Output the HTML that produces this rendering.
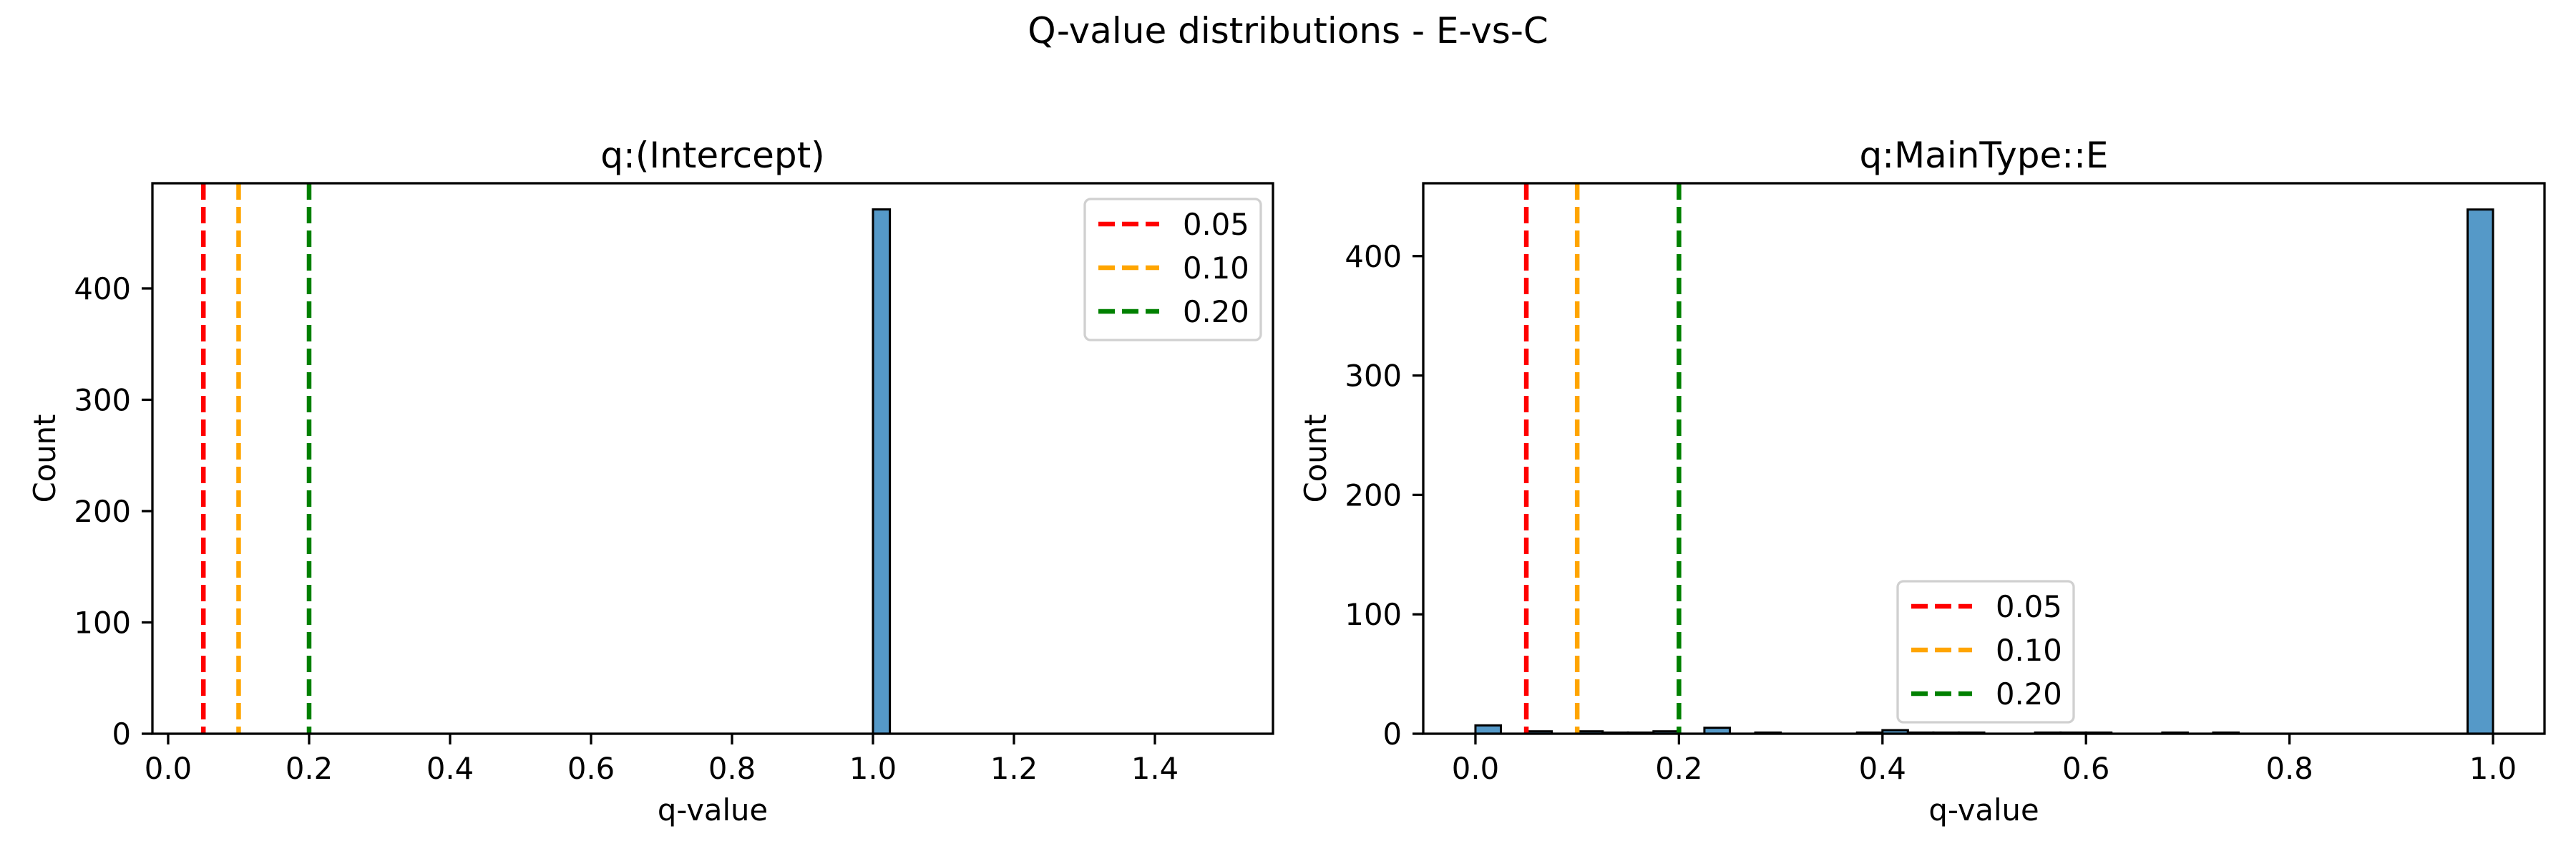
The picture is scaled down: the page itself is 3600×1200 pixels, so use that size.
<!DOCTYPE html>
<html><head><meta charset="utf-8">
<style>
html,body{margin:0;padding:0;background:#fff;}
svg{display:block;font-family:"DejaVu Sans","Liberation Sans",sans-serif;}
</style></head>
<body>
<svg id="fig" width="3600" height="1200" viewBox="0 0 3600 1200" xmlns="http://www.w3.org/2000/svg">
<rect width="3600" height="1200" fill="#fff"/>
<text x="1800" y="60" font-size="50" text-anchor="middle">Q-value distributions - E-vs-C</text>
</svg>
<script>
// Left panel data
const leftBinStarts = [1.0];
const leftCounts = [471];
const leftXTicks = [0.0, 0.2, 0.4, 0.6, 0.8, 1.0, 1.2, 1.4];
const leftYTicks = [0, 100, 200, 300, 400];
// Right panel data
const rightBinStarts = [0.0, 0.05, 0.1, 0.125, 0.15, 0.175, 0.225, 0.275, 0.375, 0.4, 0.425, 0.45, 0.475, 0.55, 0.575, 0.6, 0.675, 0.725, 0.975];
const rightCounts = [7, 2, 2, 1, 1, 2, 5, 1, 1, 3, 1, 1, 1, 1, 1, 1, 1, 1, 439];
const rightXTicks = [0.0, 0.2, 0.4, 0.6, 0.8, 1.0];
const rightYTicks = [0, 100, 200, 300, 400];
const thresholds = [0.05, 0.10, 0.20];
const thresholdLabels = ["0.05", "0.10", "0.20"];
const thresholdColors = ["#ff0000", "#ffa500", "#008000"];

const NS = "http://www.w3.org/2000/svg";
const svg = document.getElementById('fig');
function mk(tag, attrs, parent) {
  const e = document.createElementNS(NS, tag);
  for (const k in attrs) e.setAttribute(k, attrs[k]);
  (parent || svg).appendChild(e);
  return e;
}

function panel(cfg) {
  const g = mk('g', {});
  
  
  const xs = v => cfg.x0 + (v - cfg.xmin) / (cfg.xmax - cfg.xmin) * (cfg.x1 - cfg.x0);
  const ys = v => cfg.y1 - (v - cfg.ymin) / (cfg.ymax - cfg.ymin) * (cfg.y1 - cfg.y0);
  cfg.starts.forEach((s, i) => {
    const x = xs(s), w = xs(s + cfg.bw) - x, y = ys(cfg.counts[i]);
    const r = mk('rect', {x: x, y: y, width: w, height: cfg.y1 - y, fill: '#5599c8', stroke: '#000', 'stroke-width': 3}, g);
    
    
  });
  thresholds.forEach((t, i) => {
    const l = mk('line', {x1: xs(t), x2: xs(t), y1: cfg.y0, y2: cfg.y1, stroke: thresholdColors[i], 'stroke-width': 6.5, 'stroke-dasharray': '23,10'}, g);
    
    
  });
  const fr = mk('rect', {x: cfg.x0, y: cfg.y0, width: cfg.x1 - cfg.x0, height: cfg.y1 - cfg.y0, fill: 'none', stroke: '#000', 'stroke-width': 3.3}, g);
  
  
  cfg.xticks.forEach(t => {
    const x = xs(t);
    mk('line', {x1: x, x2: x, y1: cfg.y1, y2: cfg.y1 + 15, stroke: '#000', 'stroke-width': 3.3}, g);
    const tx = mk('text', {x: x, y: cfg.y1 + 63, 'font-size': 41.7, 'text-anchor': 'middle'}, g);
    tx.textContent = t.toFixed(1);
    
    
  });
  cfg.yticks.forEach(t => {
    const y = ys(t);
    mk('line', {x1: cfg.x0 - 15, x2: cfg.x0, y1: y, y2: y, stroke: '#000', 'stroke-width': 3.3}, g);
    const tx = mk('text', {x: cfg.x0 - 30, y: y + 15, 'font-size': 41.7, 'text-anchor': 'end'}, g);
    tx.textContent = String(t);
    
    
  });
  const title = mk('text', {x: (cfg.x0 + cfg.x1) / 2, y: cfg.y0 - 22, 'font-size': 50, 'text-anchor': 'middle'}, g);
  title.textContent = cfg.title;
  
  
  const xl = mk('text', {x: (cfg.x0 + cfg.x1) / 2, y: 1146, 'font-size': 41.7, 'text-anchor': 'middle'}, g);
  xl.textContent = 'q-value';
  
  
  const yl = mk('text', {x: 0, y: 0, 'font-size': 41.7, 'text-anchor': 'middle', transform: `translate(${cfg.ylabelX},${(cfg.y0 + cfg.y1) / 2}) rotate(-90)`}, g);
  yl.textContent = 'Count';
  
  
  const lg = mk('g', {}, g);
  
  
  mk('rect', {x: cfg.lx, y: cfg.ly, width: 246, height: 197, rx: 8, fill: '#fff', 'fill-opacity': 0.8, stroke: '#d0d0d0', 'stroke-width': 3.3}, lg);
  thresholdLabels.forEach((lab, i) => {
    const yy = cfg.ly + 35 + i * 61;
    const e = mk('g', {}, lg);
    
    
    mk('line', {x1: cfg.lx + 19, x2: cfg.lx + 104, y1: yy, y2: yy, stroke: thresholdColors[i], 'stroke-width': 6.5, 'stroke-dasharray': '23,10'}, e);
    const t = mk('text', {x: cfg.lx + 137, y: yy + 15, 'font-size': 41.7}, e);
    t.textContent = lab;
  });
}

panel({name: 'panel-intercept', title: 'q:(Intercept)', x0: 213, x1: 1779, y0: 256, y1: 1025,
  xmin: -0.0223, xmax: 1.5675, ymin: 0, ymax: 494.5, starts: leftBinStarts, counts: leftCounts, bw: 0.024,
  xticks: leftXTicks, yticks: leftYTicks, ylabelX: 77, lx: 1516, ly: 278});
panel({name: 'panel-maintype', title: 'q:MainType::E', x0: 1989, x1: 3556, y0: 256, y1: 1025,
  xmin: -0.0513, xmax: 1.0506, ymin: 0, ymax: 461, starts: rightBinStarts, counts: rightCounts, bw: 0.025,
  xticks: rightXTicks, yticks: rightYTicks, ylabelX: 1853, lx: 2652, ly: 812});
</script>
</body></html>
